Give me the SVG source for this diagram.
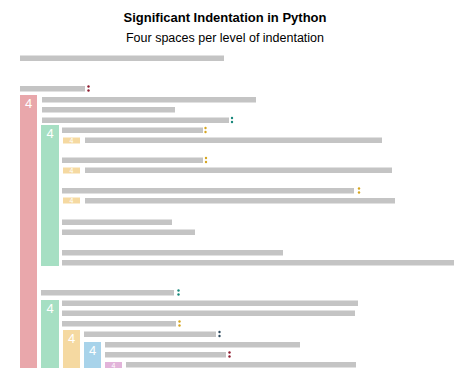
<svg xmlns="http://www.w3.org/2000/svg" width="474" height="385" viewBox="0 0 474 385">
<style>
.t{font-family:"Liberation Sans",Arial,sans-serif;fill:#000;text-anchor:middle}
.bar{fill:#c4c4c4}
.n{font-family:"Liberation Sans",Arial,sans-serif;fill:#fff;text-anchor:middle;font-size:13px}
.ns{font-family:"Liberation Sans",Arial,sans-serif;fill:#fff;text-anchor:middle;font-size:7px}
.red{fill:#e9a7ab}.grn{fill:#a6dfc3}.yel{fill:#f5d9a1}.blu{fill:#a8d3ea}.pnk{fill:#e2b4da}
.cr{fill:#8e1b2e}.ct{fill:#17877a}.cy{fill:#d6a51e}.cb{fill:#2e4a5e}
</style>
<rect width="474" height="385" fill="#fff"/>
<g id="title">
<text class="t" x="225" y="22" font-size="13" font-weight="bold">Significant Indentation in Python</text>
<text class="t" x="225" y="42" font-size="12.5">Four spaces per level of indentation</text>
</g>
<g id="blocks">
<rect class="red" x="20" y="95" width="17" height="273"/>
<text class="n" x="28.5" y="108">4</text>
<rect class="grn" x="41" y="125" width="18" height="141"/>
<text class="n" x="50" y="138">4</text>
<rect class="yel" x="63" y="137.5" width="17" height="6"/>
<text class="ns" x="71.5" y="143">4</text>
<rect class="yel" x="63" y="167.5" width="17" height="6"/>
<text class="ns" x="71.5" y="173">4</text>
<rect class="yel" x="63" y="197.5" width="17" height="6"/>
<text class="ns" x="71.5" y="203">4</text>
<rect class="grn" x="41" y="300" width="18" height="68"/>
<text class="n" x="50" y="313">4</text>
<rect class="yel" x="63" y="330" width="17" height="38"/>
<text class="n" x="71.5" y="343">4</text>
<rect class="blu" x="84" y="342" width="17" height="26"/>
<text class="n" x="92.5" y="355">4</text>
<rect class="pnk" x="105" y="362" width="17" height="6"/>
<text class="ns" x="113.5" y="367.5">4</text>
</g>
<g id="lines">
<rect class="bar" x="20" y="55.5" width="204" height="5.5"/>
<rect class="bar" x="20" y="86" width="65" height="5.5"/>
<rect class="bar" x="42" y="97" width="214" height="5.5"/>
<rect class="bar" x="42" y="107" width="133" height="5.5"/>
<rect class="bar" x="42" y="117.5" width="187" height="5.5"/>
<rect class="bar" x="62" y="127.5" width="141" height="5.5"/>
<rect class="bar" x="85" y="137.5" width="297" height="5.5"/>
<rect class="bar" x="62" y="157.5" width="141" height="5.5"/>
<rect class="bar" x="85" y="167.5" width="307" height="5.5"/>
<rect class="bar" x="62" y="188" width="292" height="5.5"/>
<rect class="bar" x="85" y="198" width="310" height="5.5"/>
<rect class="bar" x="62" y="219.5" width="110" height="5.5"/>
<rect class="bar" x="62" y="229.5" width="133" height="5.5"/>
<rect class="bar" x="62" y="250" width="221" height="5.5"/>
<rect class="bar" x="62" y="260" width="392" height="5.5"/>
<rect class="bar" x="41" y="290" width="133" height="5.5"/>
<rect class="bar" x="62" y="300.5" width="296" height="5.5"/>
<rect class="bar" x="62" y="310.5" width="293" height="5.5"/>
<rect class="bar" x="62" y="321" width="114" height="5.5"/>
<rect class="bar" x="84" y="331.5" width="132" height="5.5"/>
<rect class="bar" x="105" y="342" width="195" height="5.5"/>
<rect class="bar" x="105" y="352" width="121" height="5.5"/>
<rect class="bar" x="126" y="362" width="230" height="5.5"/>
</g>
<g id="colons">
<circle class="cr" cx="88.5" cy="86.5" r="1.2"/><circle class="cr" cx="88.5" cy="90.5" r="1.2"/>
<circle class="ct" cx="232" cy="118" r="1.2"/><circle class="ct" cx="232" cy="122" r="1.2"/>
<circle class="cy" cx="205.5" cy="128" r="1.2"/><circle class="cy" cx="205.5" cy="132" r="1.2"/>
<circle class="cy" cx="206" cy="158" r="1.2"/><circle class="cy" cx="206" cy="162" r="1.2"/>
<circle class="cy" cx="359" cy="188.5" r="1.2"/><circle class="cy" cx="359" cy="192.5" r="1.2"/>
<circle class="ct" cx="178.5" cy="290.5" r="1.2"/><circle class="ct" cx="178.5" cy="294.5" r="1.2"/>
<circle class="cy" cx="179.5" cy="321.5" r="1.2"/><circle class="cy" cx="179.5" cy="325.5" r="1.2"/>
<circle class="cb" cx="219.5" cy="332" r="1.2"/><circle class="cb" cx="219.5" cy="336" r="1.2"/>
<circle class="cr" cx="229.5" cy="352.5" r="1.2"/><circle class="cr" cx="229.5" cy="356.5" r="1.2"/>
</g>
</svg>
